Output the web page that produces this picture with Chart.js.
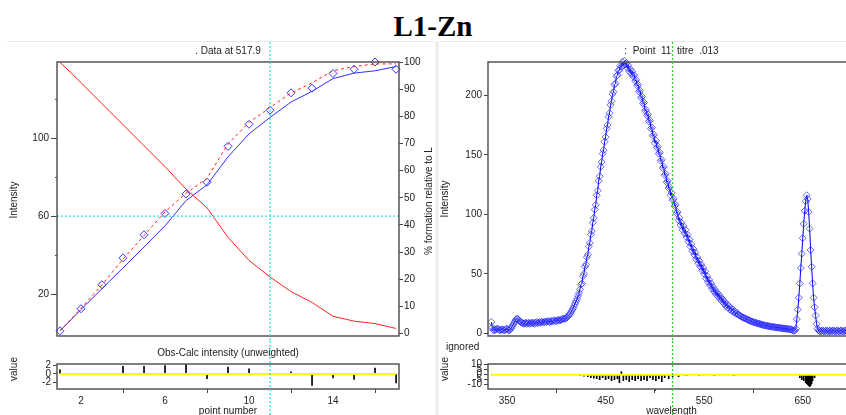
<!DOCTYPE html>
<html>
<head>
<meta charset="utf-8">
<title>L1-Zn</title>
<script src="https://cdn.jsdelivr.net/npm/chart.js@4.4.1/dist/chart.umd.min.js"></script>
<style>
html, body { margin: 0; padding: 0; background: #fff; }
body { width: 846px; height: 415px; overflow: hidden; position: relative; }
#title { position: absolute; left: 333px; width: 200px; top: 10px; line-height: 29px; text-align: center;
         font: bold 29px "Liberation Serif", "Times New Roman", serif; color: #000; }
.rule { position: absolute; top: 41px; height: 1px; background: #e8e8e8; }
#sep { position: absolute; left: 435px; top: 41px; width: 4px; height: 374px; background: #efefef; }
canvas { position: absolute; }
</style>
</head>
<body>
<div id="title">L1-Zn</div>
<div class="rule" style="left:7px;width:426px"></div>
<div class="rule" style="left:440px;width:406px"></div>
<div id="sep"></div>
<canvas id="leftMain" width="440" height="299" style="left:0;top:42px"></canvas>
<canvas id="leftRes" width="440" height="74" style="left:0;top:341px"></canvas>
<canvas id="rightMain" width="420" height="299" style="left:440px;top:42px"></canvas>
<canvas id="rightRes" width="420" height="74" style="left:440px;top:341px"></canvas>
<script>
// ---- left panel : titration at 517.9 nm ----
const pointNo = [1, 2, 3, 4, 5, 6, 7, 8, 9, 10, 11, 12, 13, 14, 15, 16, 17];
const obsInt  = [1.3, 12.6, 24.9, 38.7, 50.5, 61.4, 71.4, 77.4, 95.8, 107.1, 114.3, 123.2, 125.6, 133.1, 135.3, 139, 135.3];
const calcInt = [1.3, 12.2, 22.9, 33.5, 44.2, 55.1, 68.0, 76.1, 90.4, 102.2, 110.6, 118.5, 124.0, 130.5, 133.3, 134.5, 136.7];
const pctL    = [100, 92.5, 84.7, 77.0, 69.2, 61.5, 53.2, 46.3, 35.4, 26.9, 20.8, 15.4, 11.4, 6.3, 4.5, 3.6, 1.8];
const pctML   = [0.9, 9.2, 17.9, 27.4, 36.1, 44.8, 51.7, 57.2, 69.9, 77.8, 83.3, 88.7, 92.4, 96.9, 98.4, 99.4, 99.4];
const resPoint = [1.0, 0, 0.1, 1.8, 1.8, 2.0, 2.3, -1.1, 1.6, 1.2, 0, 0.5, -2.7, -0.9, -1.3, 1.4, -2.1];

// ---- right panel : spectrum of point 11, one value per nm from wlFirst ----
const wlFirst = 334;
const specInt = [
  9.5, 5, 3, 2.5, 3, 3.5, 4, 3.5, 3, 2.5,            // 334
  3, 3.5, 3, 2.5, 3, 3.5, 4, 3, 2.5, 3,              // 344
  4, 5.5, 7, 8.5, 10, 11.5, 12.5, 12, 11, 10,        // 354
  9.5, 9, 8.5, 8, 8.5, 9, 8, 8.5, 9, 8,              // 364
  8.5, 9, 8.5, 9, 8, 9, 9.5, 8.5, 9, 9.5,            // 374
  9, 9.5, 10, 9, 9.5, 10, 9.5, 10, 10.5, 9.5,        // 384
  10, 10.5, 10, 10.5, 11, 10.5, 10, 11, 11.5, 11,    // 394
  11, 11.5, 12, 12.5, 12, 12.5, 13, 13.5, 14.5, 15.5, // 404
  16.5, 18, 19.5, 21, 23, 25, 27, 29, 31.5, 34,      // 414
  37, 41, 42, 48, 50, 56, 58, 64, 66, 73,            // 424
  76, 83, 86, 93, 97, 104, 108, 116, 120, 128,       // 434
  132, 140, 144, 151, 154, 161, 165, 172, 175, 182,  // 444
  185, 192, 195, 201, 203, 209, 210, 216, 217, 221,  // 454
  221, 225, 224, 228, 225, 229, 226, 227, 223, 225,  // 464
  220, 222, 218, 220, 216, 217, 212, 213, 208, 209,  // 474
  203, 204, 198, 199, 193, 194, 187, 188, 183, 184,  // 484
  178, 179, 172, 173, 166, 167, 160, 162, 156, 157,  // 494
  151, 152, 145, 146, 139, 140, 133, 134, 127, 128,  // 504
  122, 123, 116, 118, 112, 113, 107, 108, 101, 102,  // 514
  95, 97, 91, 93, 87, 90, 84, 87, 81, 83,            // 524
  77, 79, 73, 75, 69, 71, 66, 68, 62, 64,            // 534
  59, 61, 56, 58, 53, 55, 50, 52, 46, 48,            // 544
  43, 45, 40.5, 42, 37.5, 39, 35, 36.5, 33, 34.5,    // 554
  31, 32.5, 29, 30.5, 27, 28.5, 25, 26.5, 23, 24.5,  // 564
  21.5, 23, 20, 21.5, 19, 20, 17.5, 18.5, 16.5, 17.5, // 574
  16, 15.5, 15, 14.5, 14, 13.5, 13, 12.8, 12.5, 12,  // 584
  11.5, 11.2, 11, 10.5, 10, 9.8, 9.5, 9.2, 9, 8.7,   // 594
  8.5, 8.2, 8, 7.8, 7.5, 7.2, 7, 6.8, 6.6, 6.5,      // 604
  6.3, 6.1, 6, 5.8, 5.7, 5.5, 5.4, 5.3, 5.2, 5,      // 614
  4.9, 4.8, 4.7, 4.6, 4.5, 4.3, 4.2, 4.1, 4, 3.9,    // 624
  3.8, 3.7, 3.6, 3.5, 3.4, 3, 2.5, 2, 2.5, 4,        // 634
  12, 20, 30, 42, 55, 67, 80, 92, 103, 111,          // 644
  116, 113, 102, 88, 70, 56, 42, 30, 22, 15,         // 654
  8, 4, 2.5, 2, 1.5, 2, 2.5, 2, 1.5, 2,              // 664
  2.5, 2, 1.5, 2, 2.5, 1.5, 2, 2.5, 2, 1.5,          // 674
  2, 2.5, 2, 1.5, 2, 2.5, 2, 1.5, 2, 2.5,            // 684
  2, 1.5, 2, 2.5, 2, 1.5, 2                          // 694
];
const resWl  = [424, 428, 432, 435, 438, 441, 444, 447, 450, 453, 456, 459, 462, 464, 466, 468, 471, 474, 477, 480,
                483, 486, 489, 492, 495, 498, 501, 504, 507, 510, 514, 518, 524, 532, 545, 560, 580,
                647, 649, 651, 653, 654, 655, 656, 657, 658, 659, 660, 662];
const resVal = [-1, -1.5, -2, -3, -3.5, -4, -5, -3, -5, -4, -6, -5, -4, -8, 3, -6, -5, -7, -5, -6,
                -4, -6, -5, -6, -3, -5, -6, -4, -7, -3, -4, -2, -2, -1, -1, -1, -1,
                -3, -5, -6, -8, -9, -10, -11, -12, -11, -9, -6, -3];
const resDotsEnd = 664;

// ticks
const intTicks = [20, 60, 100];
const intMinor = [40, 80, 120];
const pctTicks = [0, 10, 20, 30, 40, 50, 60, 70, 80, 90, 100];
const resTicksL = [-2, 0, 2];
const pointTicks = [2, 6, 10, 14];
const pointMinor = [4, 8, 12, 16];
const specTicks = [0, 50, 100, 150, 200];
const resTicksR = [-10, -5, 0, 5, 10];
const wlTicks = [350, 450, 550, 650];
const wlMinor = [400, 500, 600, 700];
const selPoint = 11, selWl = 517.9, refInt = 60;

const FONT = '"Liberation Sans", Arial, sans-serif';
Chart.defaults.font.family = FONT;
Chart.defaults.font.size = 10;
Chart.defaults.color = '#222';

const pts = (xs, ys) => xs.map((x, i) => ({ x, y: ys[i] }));
const wl = specInt.map((_, i) => wlFirst + i);

function axis(pos, min, max, ticks, size, tickLength, pad) {
  const vertical = pos === 'left' || pos === 'right';
  return {
    type: 'linear', position: pos, min, max,
    afterBuildTicks: s => { s.ticks = ticks.map(v => ({ value: v })); },
    afterFit: s => {
      if (vertical) s.width = size; else s.height = size;
      s.paddingTop = s.paddingBottom = s.paddingLeft = s.paddingRight = 0;
    },
    ticks: { autoSkip: false, maxRotation: 0, minRotation: 0, padding: pad, color: '#222', font: { size: 10 } },
    grid: { drawOnChartArea: false, drawTicks: true, tickLength, tickColor: '#444', tickWidth: 1 },
    border: { display: false }
  };
}

function base(extra) {
  return Object.assign({
    responsive: false, animation: false, devicePixelRatio: 1, events: [],
    plugins: { legend: { display: false }, tooltip: { enabled: false } }
  }, extra);
}

function line(ctx, x1, y1, x2, y2) {
  ctx.beginPath(); ctx.moveTo(x1, y1); ctx.lineTo(x2, y2); ctx.stroke();
}

let decoId = 0;
function deco(cfg) {
  return {
    id: 'deco' + (++decoId),
    afterDraw(chart) {
      const { ctx, chartArea: a, scales } = chart;
      ctx.save();
      ctx.strokeStyle = '#444'; ctx.lineWidth = 1;
      (cfg.minorX || []).forEach(v => {
        const x = Math.round(scales.x.getPixelForValue(v)) + 0.5;
        line(ctx, x, a.bottom, x, a.bottom + 2);
      });
      (cfg.minorY || []).forEach(v => {
        const y = Math.round(scales.y.getPixelForValue(v)) + 0.5;
        line(ctx, a.left - 2, y, a.left, y);
      });
      if (cfg.hline) {
        const y = scales.y.getPixelForValue(cfg.hline.value);
        ctx.strokeStyle = cfg.hline.color; ctx.lineWidth = 1.2; ctx.setLineDash([2, 2]);
        line(ctx, a.left, y, a.right, y);
      }
      ctx.setLineDash([]); ctx.strokeStyle = '#555'; ctx.lineWidth = 1.5;
      ctx.strokeRect(a.left, a.top, a.right - a.left, a.bottom - a.top);
      if (cfg.vline) {
        const x = scales.x.getPixelForValue(cfg.vline.value);
        ctx.strokeStyle = cfg.vline.color; ctx.lineWidth = 1.3; ctx.setLineDash([2, 2]);
        line(ctx, x, 0, x, chart.height);
      }
      ctx.setLineDash([]);
      ctx.fillStyle = '#222'; ctx.font = '10px ' + FONT; ctx.textBaseline = 'middle';
      (cfg.texts || []).forEach(t => {
        ctx.save();
        const x = t.x == null ? (a.left + a.right) / 2 : t.x - cfg.ox;
        ctx.translate(x, t.y - cfg.oy);
        if (t.rot) ctx.rotate(-Math.PI / 2);
        ctx.textAlign = t.align || 'center';
        ctx.fillText(t.s, 0, 0);
        ctx.restore();
      });
      ctx.restore();
    }
  };
}

// left, main plot
new Chart(document.getElementById('leftMain'), {
  type: 'scatter',
  data: { datasets: [
    { data: pts(pointNo, pctL), yAxisID: 'y2', showLine: true, borderColor: '#ff2020', borderWidth: 1, pointRadius: 0 },
    { data: pts(pointNo, pctML), yAxisID: 'y2', showLine: true, borderColor: '#ff2020', borderWidth: 1, borderDash: [3, 3], pointRadius: 0 },
    { data: pts(pointNo, calcInt), yAxisID: 'y', showLine: true, borderColor: '#3030ff', borderWidth: 1, pointRadius: 0 },
    { data: pts(pointNo, obsInt), yAxisID: 'y', showLine: false, pointStyle: 'rectRot', pointRadius: 4,
      pointBorderWidth: 1, pointBorderColor: '#3535ff', pointBackgroundColor: 'rgba(0,0,0,0)', clip: false }
  ]},
  options: base({
    layout: { padding: { top: 20, bottom: 1, left: 0, right: 0 } },
    scales: {
      x: { type: 'linear', min: 0.857, max: 17.14, display: false },
      y: axis('left', -1.36, 139, intTicks, 57, 6, 2),
      y2: axis('right', -0.98, 100.1, pctTicks, 41, 4, 1)
    }
  }),
  plugins: [deco({
    ox: 0, oy: 42, minorY: intMinor,
    hline: { value: refInt, color: '#30e0e0' },
    vline: { value: selPoint, color: '#30e0e0' },
    texts: [
      { s: '. Data at 517.9', x: null, y: 51.7 },
      { s: 'Intensity', x: 14, y: 200, rot: true },
      { s: '% formation relative to L', x: 429, y: 201, rot: true }
    ]
  })]
});

// left, residuals
new Chart(document.getElementById('leftRes'), {
  type: 'bar',
  data: { datasets: [
    { type: 'line', data: [{ x: pointNo[0], y: 0 }, { x: pointNo[pointNo.length - 1], y: 0 }],
      borderColor: '#ffff00', borderWidth: 2, pointRadius: 0 },
    { data: pts(pointNo, resPoint), backgroundColor: '#000', barThickness: 1 }
  ]},
  options: base({
    layout: { padding: { top: 23, bottom: 0, left: 0, right: 41 } },
    scales: {
      x: Object.assign(axis('bottom', 0.857, 17.14, pointTicks, 26, 4, 2), { offset: false }),
      y: axis('left', -3.53, 2.35, resTicksL, 57, 4, 2)
    }
  }),
  plugins: [deco({
    ox: 0, oy: 341, minorX: pointMinor,
    vline: { value: selPoint, color: '#30e0e0' },
    texts: [
      { s: 'Obs-Calc intensity (unweighted)', x: null, y: 353 },
      { s: 'value', x: 14, y: 369, rot: true },
      { s: 'point number', x: null, y: 411 }
    ]
  })]
});

// right, spectrum
new Chart(document.getElementById('rightMain'), {
  type: 'scatter',
  data: { datasets: [
    { data: pts(wl, specInt), showLine: true, borderColor: '#0000f0', borderWidth: 1,
      pointStyle: 'rectRot', pointRadius: 3.5, pointBorderWidth: 1,
      pointBorderColor: 'rgba(40,40,255,0.7)', pointBackgroundColor: 'rgba(0,0,0,0)', clip: false }
  ]},
  options: base({
    layout: { padding: { top: 20, bottom: 1, left: 0, right: 5 } },
    scales: {
      x: { type: 'linear', min: 330.7, max: 703, display: false },
      y: axis('left', -2.2, 228, specTicks, 48, 4, 2)
    }
  }),
  plugins: [deco({
    ox: 440, oy: 42,
    vline: { value: selWl, color: '#22dd22' },
    texts: [
      { s: ':  Point  11  titre  .013', x: null, y: 51.7 },
      { s: 'Intensity', x: 445.5, y: 199, rot: true }
    ]
  })]
});

// right, residuals
new Chart(document.getElementById('rightRes'), {
  type: 'bar',
  data: { datasets: [
    { type: 'line', data: [{ x: wl[0], y: 0 }, { x: wl[wl.length - 1], y: 0 }],
      borderColor: '#ffff00', borderWidth: 2, pointRadius: 0 },
    { type: 'line', data: [{ x: wl[0], y: 0 }, { x: resDotsEnd, y: 0 }],
      borderColor: 'rgba(40,40,255,0.8)', borderWidth: 1.5, borderDash: [1, 3], pointRadius: 0 },
    { data: pts(resWl, resVal), backgroundColor: '#000', barThickness: 1 }
  ]},
  options: base({
    layout: { padding: { top: 23, bottom: 0, left: 0, right: 5 } },
    scales: {
      x: Object.assign(axis('bottom', 330.7, 703, wlTicks, 26, 4, 2), { offset: false }),
      y: axis('left', -14.3, 10.7, resTicksR, 48, 4, 2)
    }
  }),
  plugins: [deco({
    ox: 440, oy: 341, minorX: wlMinor,
    vline: { value: selWl, color: '#22dd22' },
    texts: [
      { s: 'ignored', x: 446, y: 347, align: 'left' },
      { s: 'value', x: 445, y: 369, rot: true },
      { s: 'wavelength', x: null, y: 411.5 }
    ]
  })]
});
</script>
</body>
</html>
